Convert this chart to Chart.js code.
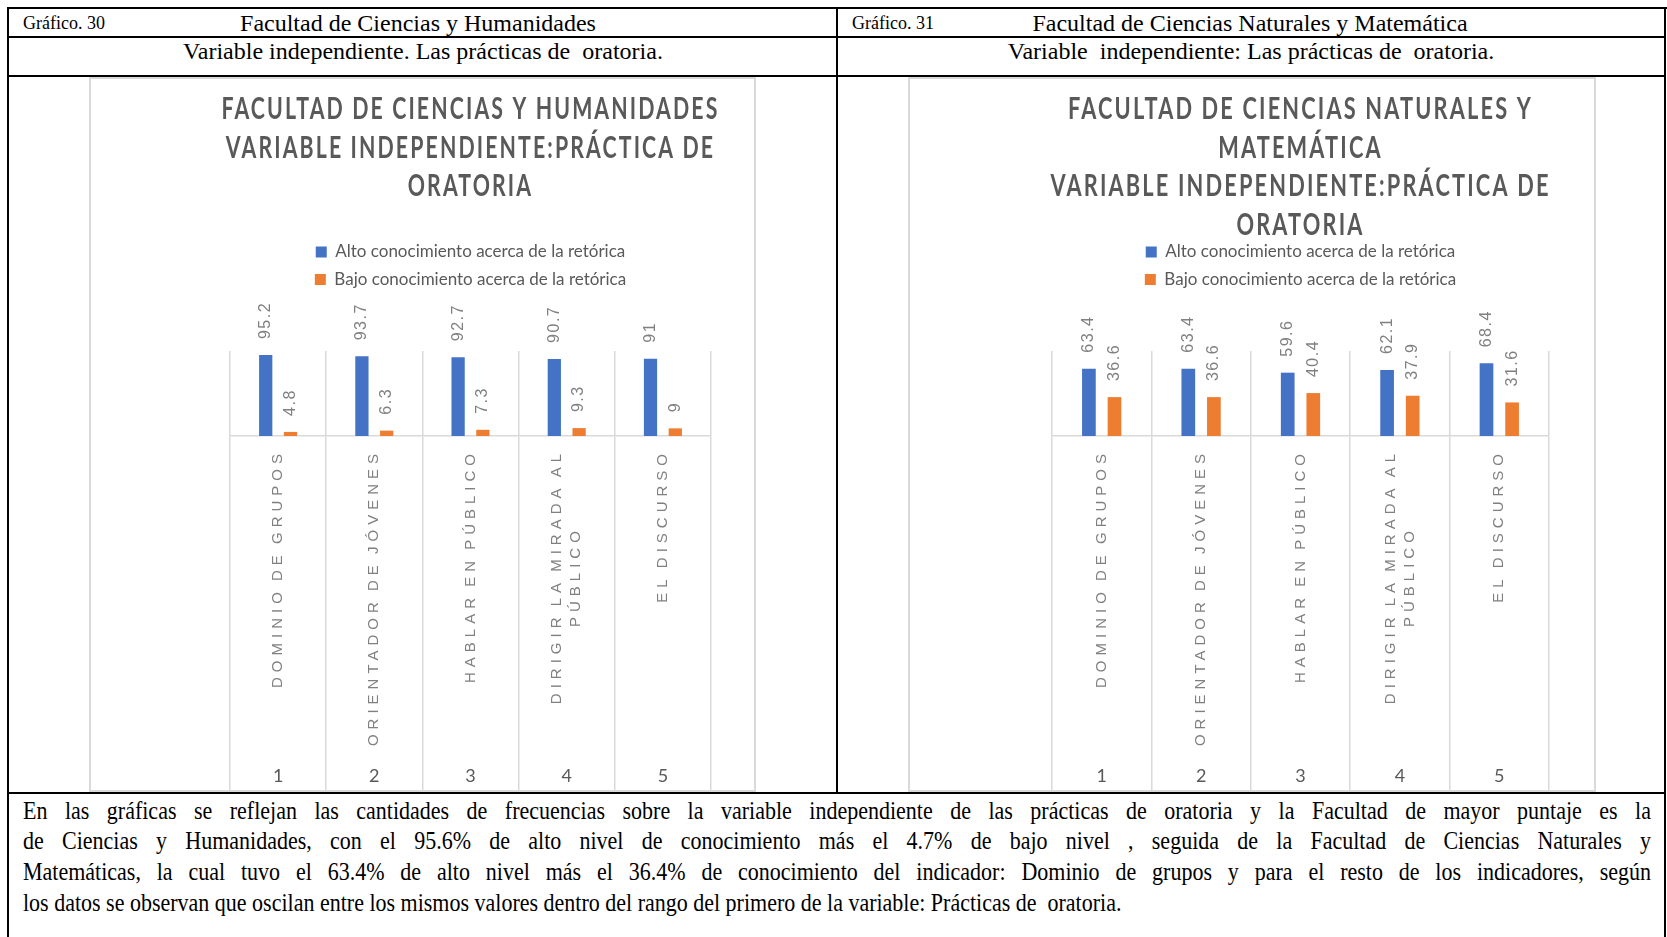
<!DOCTYPE html>
<html>
<head>
<meta charset="utf-8">
<script src="https://cdn.jsdelivr.net/npm/chart.js@4.4.0/dist/chart.umd.min.js"></script>
<style>
  body { margin: 0; background: #fff; width: 1667px; height: 937px; position: relative; overflow: hidden;
         font-family: "Liberation Serif", "Times New Roman", serif; color: #000; }
  .ln { position: absolute; background: #000; }
  .t { position: absolute; white-space: pre; line-height: 1; }
  .c { transform: translateX(-50%); }
  .frame { position: absolute; border: 2px solid #d9d9d9; box-sizing: border-box; }
  canvas { position: absolute; }
  /* texto algo comprimido a lo ancho, como en el documento */
  #txt { position: absolute; left: 23px; top: 795.5px; width: 1850px; font-size: 25px; line-height: 30.7px;
         transform: scaleX(0.88); transform-origin: 0 0; }
  #txt div { text-align: justify; text-align-last: justify; }
  #txt div.last { text-align-last: left; }
</style>
</head>
<body>
<!-- bordes de la tabla -->
<div class="ln" style="left:7px;top:7px;width:1660px;height:2px"></div>
<div class="ln" style="left:7px;top:7px;width:2px;height:930px"></div>
<div class="ln" style="left:1664px;top:7px;width:2px;height:930px"></div>
<div class="ln" style="left:836px;top:7px;width:2px;height:787px"></div>
<div class="ln" style="left:7px;top:36px;width:1659px;height:2px"></div>
<div class="ln" style="left:7px;top:75px;width:1659px;height:2px"></div>
<div class="ln" style="left:7px;top:792px;width:1659px;height:2px"></div>

<div class="t" style="left:23px;top:14px;font-size:18px">Gráfico. 30</div>
<div class="t c" style="left:418px;top:11px;font-size:24px">Facultad de Ciencias y Humanidades</div>
<div class="t" style="left:852px;top:14px;font-size:18px">Gráfico. 31</div>
<div class="t c" style="left:1250px;top:11px;font-size:24px">Facultad de Ciencias Naturales y Matemática</div>
<div class="t c" style="left:423px;top:39px;font-size:24px">Variable independiente. Las prácticas de  oratoria.</div>
<div class="t c" style="left:1251px;top:39px;font-size:24px">Variable  independiente: Las prácticas de  oratoria.</div>

<div class="frame" style="left:89px;top:77px;width:667px;height:715px"></div>
<div class="frame" style="left:908px;top:77px;width:688px;height:715px"></div>
<canvas id="chartHum" width="570" height="715" style="left:185px;top:77px"></canvas>
<canvas id="chartNat" width="600" height="715" style="left:1000px;top:77px"></canvas>

<div id="txt">
  <div>En las gráficas se reflejan las cantidades de frecuencias sobre la variable independiente de las prácticas de oratoria y la Facultad de mayor puntaje es la</div>
  <div>de Ciencias y Humanidades, con el 95.6% de alto nivel de conocimiento más el 4.7% de bajo nivel , seguida de la Facultad de Ciencias Naturales y</div>
  <div>Matemáticas, la cual tuvo el 63.4% de alto nivel más el 36.4% de conocimiento del indicador: Dominio de grupos y para el resto de los indicadores, según</div>
  <div class="last">los datos se observan que oscilan entre los mismos valores dentro del rango del primero de la variable: Prácticas de&nbsp; oratoria.</div>
</div>

<script>
// datos de los dos gráficos
const categories = [['DOMINIO DE GRUPOS'], ['ORIENTADOR DE JÓVENES'], ['HABLAR EN PÚBLICO'], ['DIRIGIR LA MIRADA AL', 'PÚBLICO'], ['EL DISCURSO']];
const tickNumbers = ['1', '2', '3', '4', '5'];
const seriesNames = ['Alto conocimiento acerca de la retórica', 'Bajo conocimiento acerca de la retórica'];
const humAlto = [95.2, 93.7, 92.7, 90.7, 91];
const humBajo = [4.8, 6.3, 7.3, 9.3, 9];
const natAlto = [63.4, 63.4, 59.6, 62.1, 68.4];
const natBajo = [36.6, 36.6, 40.4, 37.9, 31.6];
const humTitle = ['FACULTAD DE CIENCIAS Y HUMANIDADES', 'VARIABLE INDEPENDIENTE:PRÁCTICA DE', 'ORATORIA'];
const natTitle = ['FACULTAD DE CIENCIAS NATURALES Y', 'MATEMÁTICA', 'VARIABLE INDEPENDIENTE:PRÁCTICA DE', 'ORATORIA'];
const humMax = 100;
const natMax = 80;

Chart.defaults.font.family = 'Lato, sans-serif';

// titulo, etiquetas de datos y nombres de categoria (con espaciado de letras)
function excelText(title, titleWidth) {
  return {
    id: 'excelText',
    afterDatasetsDraw(chart) {
      const ctx = chart.ctx;
      ctx.save();
      ctx.font = '16px "Liberation Sans", Arial, sans-serif';
      ctx.letterSpacing = '1.5px';
      ctx.fillStyle = '#808080';
      ctx.textAlign = 'left';
      ctx.textBaseline = 'middle';
      chart.data.datasets.forEach((ds, di) => {
        chart.getDatasetMeta(di).data.forEach((bar, i) => {
          ctx.save();
          ctx.translate(bar.x, bar.y - 16);
          ctx.rotate(-Math.PI / 2);
          ctx.fillText(String(ds.data[i]), 0, 0);
          ctx.restore();
        });
      });
      ctx.restore();
    },
    afterDraw(chart) {
      const ctx = chart.ctx, area = chart.chartArea;
      const cx = (area.left + area.right) / 2;
      ctx.save();
      ctx.font = 'bold 30px Lato, sans-serif';
      ctx.letterSpacing = '3px';
      ctx.fillStyle = '#595959';
      ctx.textAlign = 'center';
      ctx.textBaseline = 'middle';
      const k = titleWidth / ctx.measureText(title[0]).width;
      title.forEach((line, j) => {
        ctx.save();
        ctx.translate(cx, 32.5 + j * 38.5);
        ctx.scale(k, 1);
        ctx.fillText(line, 0, 0);
        ctx.restore();
      });

      ctx.font = '15px "Liberation Sans", Arial, sans-serif';
      ctx.letterSpacing = '5px';
      ctx.wordSpacing = '-3px';
      ctx.fillStyle = '#808080';
      const xs = chart.scales.x;
      categories.forEach((lines, i) => {
        const x = xs.getPixelForValue(i);
        const maxW = Math.max(...lines.map(l => ctx.measureText(l).width));
        lines.forEach((line, j) => {
          ctx.save();
          ctx.translate(x + (j - (lines.length - 1) / 2) * 19, area.bottom + 13 + maxW / 2);
          ctx.rotate(-Math.PI / 2);
          ctx.fillText(line, 0, 0);
          ctx.restore();
        });
      });
      ctx.restore();
    }
  };
}

function buildChart(id, alto, bajo, yMax, title, titleWidth, padL, padR) {
  return new Chart(document.getElementById(id), {
    type: 'bar',
    data: {
      labels: categories,
      datasets: [
        { label: seriesNames[0], data: alto, backgroundColor: '#4472c4', categoryPercentage: 0.515, barPercentage: 0.535 },
        { label: seriesNames[1], data: bajo, backgroundColor: '#ed7d31', categoryPercentage: 0.515, barPercentage: 0.535 }
      ]
    },
    options: {
      responsive: false,
      animation: false,
      devicePixelRatio: 1,
      layout: { padding: { top: 156, left: padL, right: padR, bottom: 0 } },
      plugins: {
        legend: {
          position: 'top',
          labels: { boxWidth: 11, boxHeight: 11, padding: 10.5, color: '#595959', font: { family: 'Lato, sans-serif', size: 17 } }
        },
        tooltip: { enabled: false }
      },
      scales: {
        // espacio reservado para las etiquetas de datos
        x2: {
          type: 'category', position: 'top',
          grid: { display: false }, border: { display: false }, ticks: { display: false },
          afterFit(s) { s.height = 53; }
        },
        x: {
          position: 'bottom',
          grid: { offset: true, color: '#d9d9d9', lineWidth: 1.5, tickLength: 356 },
          border: { color: '#d9d9d9', width: 1.5 },
          ticks: {
            callback: (v, i) => tickNumbers[i],
            color: '#595959', font: { family: 'Lato, sans-serif', size: 18 },
            padding: -27, maxRotation: 0, minRotation: 0, autoSkip: false
          },
          afterFit(s) { s.height = 356; }
        },
        y: { display: false, min: 0, max: yMax }
      }
    },
    plugins: [excelText(title, titleWidth)]
  });
}

buildChart('chartHum', humAlto, humBajo, humMax, humTitle, 498, 45, 44);
buildChart('chartNat', natAlto, natBajo, natMax, natTitle, 465, 52, 51);
</script>
</body>
</html>
